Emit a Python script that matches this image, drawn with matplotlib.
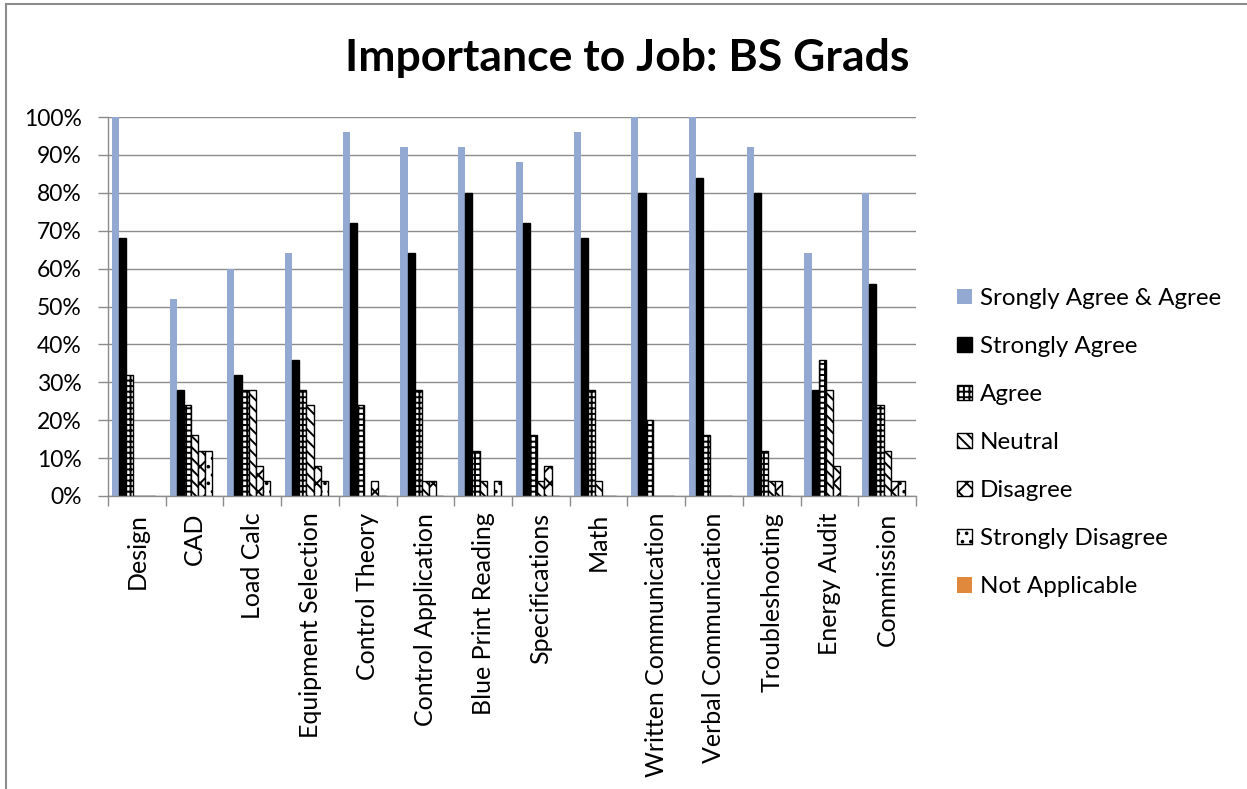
import matplotlib
matplotlib.use("Agg")
import matplotlib.pyplot as plt
import numpy as np
from matplotlib.ticker import PercentFormatter, FixedLocator, NullFormatter
from matplotlib.lines import Line2D

plt.rcParams['font.family'] = ['Lato', 'DejaVu Sans']
plt.rcParams['hatch.linewidth'] = 1.4

categories = ["Design", "CAD", "Load Calc", "Equipment Selection", "Control Theory",
              "Control Application", "Blue Print Reading", "Specifications", "Math",
              "Written Communication", "Verbal Communication", "Troubleshooting",
              "Energy Audit", "Commission"]

sa_and_a = [100, 52, 60, 64, 96, 92, 92, 88, 96, 100, 100, 92, 64, 80]
strongly_agree = [68, 28, 32, 36, 72, 64, 80, 72, 68, 80, 84, 80, 28, 56]
agree = [32, 24, 28, 28, 24, 28, 12, 16, 28, 20, 16, 12, 36, 24]
neutral = [0, 16, 28, 24, 0, 4, 4, 4, 4, 0, 0, 4, 28, 12]
disagree = [0, 12, 8, 8, 4, 4, 0, 8, 0, 0, 0, 4, 8, 4]
strongly_disagree = [0, 12, 4, 4, 0, 0, 4, 0, 0, 0, 0, 0, 0, 4]
not_applicable = [0] * 14

series = [
    ("Srongly Agree & Agree", sa_and_a, dict(color="#93A9D1", edgecolor="none")),
    ("Strongly Agree", strongly_agree, dict(color="black", edgecolor="black")),
    ("Agree", agree, dict(facecolor="white", edgecolor="black", hatch="+++")),
    ("Neutral", neutral, dict(facecolor="white", edgecolor="black", hatch="\\\\\\")),
    ("Disagree", disagree, dict(facecolor="white", edgecolor="black", hatch="xx")),
    ("Strongly Disagree", strongly_disagree, dict(facecolor="white", edgecolor="black", hatch="..")),
    ("Not Applicable", not_applicable, dict(color="#E0883C", edgecolor="none")),
]

W, H = 1247, 789
fig = plt.figure(figsize=(W / 100, H / 100), dpi=100)

# chart frame
fig.add_artist(Line2D([6 / W, 1.0], [1 - 4 / H, 1 - 4 / H], color="#8C8C8C", lw=1.5,
                      transform=fig.transFigure))
fig.add_artist(Line2D([6 / W, 6 / W], [0, 1 - 4 / H], color="#8C8C8C", lw=1.5,
                      transform=fig.transFigure))

left, right, top, bottom = 108, 916, 117, 496
ax = fig.add_axes([left / W, 1 - bottom / H, (right - left) / W, (bottom - top) / H])

x = np.arange(len(categories))
n = len(series)
w = 0.124
for i, (label, vals, style) in enumerate(series):
    off = (i - (n - 1) / 2) * w
    lw = 1.0 if style.get("edgecolor") == "black" else 0
    ax.bar(x + off, np.array(vals) / 100, width=w, label=label, linewidth=lw, **style)

ax.set_ylim(0, 1)
ax.set_xlim(-0.5, len(categories) - 0.5)
ax.yaxis.set_major_locator(FixedLocator(np.linspace(0, 1, 11)))
ax.yaxis.set_major_formatter(PercentFormatter(1.0, decimals=0))
ax.grid(axis="y", color="#8C8C8C", lw=1.0)
ax.set_axisbelow(True)

ax.set_xticks(x)
ax.set_xticklabels(categories, rotation=90, fontsize=18)
ax.tick_params(axis="x", which="major", length=0, pad=12)
ax.xaxis.set_minor_locator(FixedLocator(np.arange(-0.5, len(categories) + 0.5, 1)))
ax.xaxis.set_minor_formatter(NullFormatter())
ax.tick_params(axis="x", which="minor", length=7, color="#8C8C8C", width=1)
ax.tick_params(axis="y", labelsize=16.5, length=7, color="#8C8C8C", width=1, pad=12)

for side in ("top", "right"):
    ax.spines[side].set_visible(False)
for side in ("left", "bottom"):
    ax.spines[side].set_color("#8C8C8C")
    ax.spines[side].set_linewidth(1.0)

fig.text(627 / W, 1 - 58 / H, "Importance to Job: BS Grads", ha="center", va="center",
         fontsize=32, fontweight="bold")

leg = fig.legend(loc="upper left", bbox_to_anchor=(957 / W, 1 - 288 / H), frameon=False,
                 fontsize=17.4, handlelength=0.6, handleheight=0.6, handletextpad=0.35,
                 labelspacing=1.12, borderaxespad=0, borderpad=0)

fig.savefig("out.png", dpi=100)
